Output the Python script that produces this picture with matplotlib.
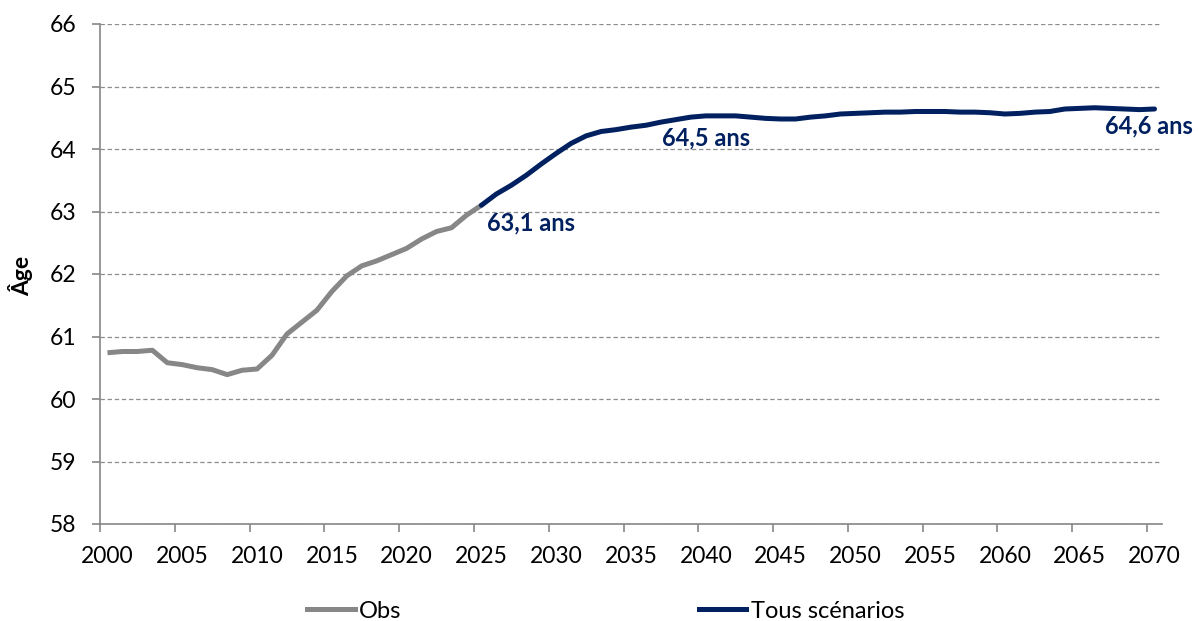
import matplotlib
matplotlib.use("Agg")
import matplotlib.pyplot as plt
from matplotlib.lines import Line2D
import numpy as np

plt.rcParams['font.family'] = ['Lato', 'DejaVu Sans']

# Observed average age (2000-2025)
obs_years = np.arange(2000, 2026)
obs_age = [60.74, 60.76, 60.76, 60.78, 60.58, 60.55, 60.50, 60.47, 60.39, 60.46,
           60.48, 60.70, 61.04, 61.23, 61.42, 61.72, 61.97, 62.13, 62.21, 62.31,
           62.41, 62.56, 62.68, 62.74, 62.94, 63.10]

# Projection, all scenarios (2025-2070)
proj_years = np.arange(2025, 2071)
proj_age = [63.10, 63.28, 63.42, 63.58, 63.76, 63.93, 64.09, 64.21, 64.28, 64.31,
            64.35, 64.38, 64.43, 64.47, 64.51, 64.53, 64.53, 64.53, 64.51, 64.49,
            64.48, 64.48, 64.51, 64.53, 64.56, 64.57, 64.58, 64.59, 64.59, 64.60,
            64.60, 64.60, 64.59, 64.59, 64.58, 64.56, 64.57, 64.59, 64.60, 64.64,
            64.65, 64.66, 64.65, 64.64, 64.63, 64.64]

labels = ["63,1 ans", "64,5 ans", "64,6 ans"]
label_pos = [(2025.35, 62.82), (2037.1, 64.18), (2066.7, 64.37)]

grey = '#878787'
navy = '#002060'
axis_col = '#868686'
lw = 3.6

fig = plt.figure(figsize=(12.01, 6.21), dpi=100)
ax = fig.add_axes([100 / 1201, 97 / 621, 1062 / 1201, 500 / 621])

ax.plot(obs_years, obs_age, color=grey, lw=lw, solid_capstyle='butt', solid_joinstyle='round')
ax.plot(proj_years, proj_age, color=navy, lw=lw, solid_capstyle='round', solid_joinstyle='round')

for txt, (x, y) in zip(labels, label_pos):
    ax.text(x, y, txt, color=navy, fontsize=17, fontweight='bold', ha='left', va='center', clip_on=False)

ax.set_xlim(1999.5, 2070.5)
ax.set_ylim(58, 66)

# labels centred on the year, tick marks on category boundaries
ax.set_xticks(np.arange(2000, 2071, 5))
ax.set_xticks(np.arange(1999.5, 2070, 5), minor=True)
ax.tick_params(axis='x', which='major', length=0, pad=16, labelsize=16.5)
ax.tick_params(axis='x', which='minor', length=6, width=1.2, color=axis_col)
ax.set_yticks(np.arange(58, 67, 1))
ax.tick_params(axis='y', length=6, width=1.2, color=axis_col, pad=11, labelsize=16.5)

ax.grid(axis='y', color='#8c8c8c', lw=0.9, ls=(0, (3.5, 2.2)))
ax.set_axisbelow(True)
for s in ['top', 'right']:
    ax.spines[s].set_visible(False)
for s in ['left', 'bottom']:
    ax.spines[s].set_color(axis_col)
    ax.spines[s].set_linewidth(1.2)

fig.text(21 / 1201, 1 - 276 / 621, "Âge", rotation=90, fontsize=16.5, fontweight='bold', ha='center', va='center')

handles = [Line2D([], [], color=grey, lw=lw), Line2D([], [], color=navy, lw=lw)]
fig.legend(handles, ["Obs", "Tous scénarios"], loc='center', bbox_to_anchor=(606 / 1201, 10 / 621),
           ncol=2, frameon=False, fontsize=17, handlelength=2.0, handletextpad=0.2, columnspacing=12.6)

plt.savefig("out.png", dpi=100)
